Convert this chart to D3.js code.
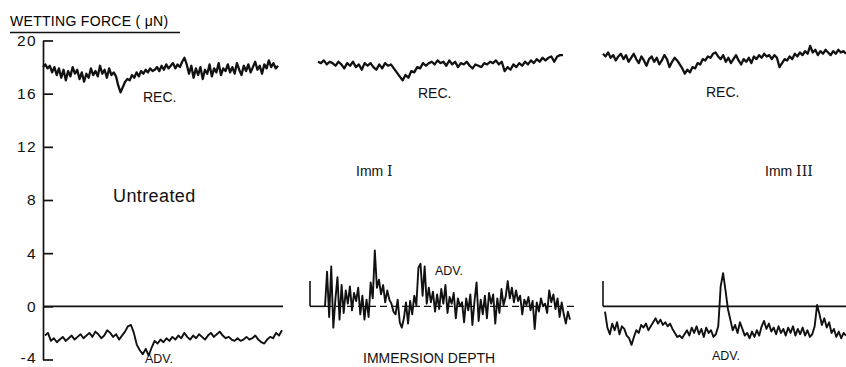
<!DOCTYPE html>
<html>
<head>
<meta charset="utf-8">
<script src="https://cdn.jsdelivr.net/npm/d3@7"></script>
<style>
  html, body { margin: 0; padding: 0; background: #fff; }
  svg { display: block; font-family: "Liberation Sans", Arial, sans-serif; }
</style>
</head>
<body>
<svg id="chart" width="846" height="367"></svg>
<script>
// Data (wetting force in µN, sampled along immersion depth)
const yTicks = [-4, 0, 4, 8, 12, 16, 20];
const axisTitle = "WETTING FORCE ( \u03bcN)";

const recUntreated = [
  18.0, 18.2, 17.9, 18.1, 17.6, 18.0, 17.4,
  17.9, 17.2, 17.8, 17.0, 17.7, 17.3, 18.0, 17.5, 17.8, 17.1, 17.6, 16.9, 17.5,
  17.2, 17.9, 17.4, 17.7, 17.3, 18.1, 17.5, 17.8, 17.2, 17.9, 17.4, 17.6, 17.3,
  16.6, 16.1, 16.5,
  16.9, 17.1, 17.0, 17.4, 17.2, 17.6, 17.3, 17.7, 17.5, 17.8, 17.6, 17.9, 17.7,
  17.8, 18.0, 17.7, 18.1, 17.8, 18.2, 17.9, 18.1, 18.3, 17.9, 18.2, 18.0, 18.4,
  18.7, 18.2,
  17.5, 18.1, 17.2, 17.9, 17.4, 18.0, 17.1, 17.8, 17.5, 18.2, 17.3, 17.9, 17.6,
  18.3, 17.4, 17.9, 17.7, 18.2,
  17.6, 18.0, 17.5, 18.3, 17.8, 17.4, 18.1, 17.7, 18.2, 17.6, 18.0, 18.4, 17.8,
  18.1, 17.5, 18.2, 17.9, 18.5, 18.0, 18.3, 17.9, 18.1
];
const advUntreated = [
  -2.2, -2.0, -2.6, -2.4, -2.7, -2.5, -2.3, -2.6, -2.4, -2.2, -2.5, -2.3, -2.1,
  -2.4, -2.2, -2.0, -2.3, -1.9, -2.1, -2.4, -2.2, -1.8, -2.0, -2.3, -2.1, -2.5,
  -2.2, -1.9, -1.5, -1.4, -2.0, -2.9, -3.3, -3.6, -3.2, -3.7, -3.1, -2.6, -2.8,
  -2.5, -2.7, -2.4, -2.6, -2.3, -2.5, -2.2, -2.4, -2.0, -2.3, -2.5, -2.2, -2.4,
  -2.1, -2.3, -2.5, -2.2, -2.0, -2.3, -2.1, -1.9, -2.2, -2.4, -2.3, -2.5, -2.6,
  -2.4, -2.6, -2.5, -2.3, -2.5, -2.4, -2.2, -2.5, -2.7, -2.8, -2.5, -2.3, -2.4,
  -2.0, -2.2, -1.8
];
const recImmI = [
  18.4, 18.3, 18.5, 18.2, 18.4, 18.3, 18.1, 18.4, 18.2, 17.9, 18.3, 18.1, 18.4,
  18.0, 18.2, 17.8, 18.3, 18.1, 18.3, 18.0, 17.8, 18.2, 17.9, 18.3, 18.1, 18.2,
  17.9, 17.6, 17.3, 17.0, 17.4, 17.2, 17.7, 17.6, 18.0, 17.9, 18.3, 18.1, 18.3,
  18.4, 18.2, 18.5, 18.3, 18.4, 18.1, 18.5, 18.2, 18.4, 18.0, 18.3, 18.2, 18.4,
  18.1, 17.9, 18.2, 18.1, 18.0, 18.3, 18.2, 18.4, 18.3, 18.5, 18.2, 18.4, 17.7,
  18.0, 17.8, 18.2, 18.0, 18.3, 18.1, 18.4, 18.2, 18.5, 18.3, 18.6, 18.4, 18.7,
  18.5, 18.7, 18.8, 18.4, 18.8, 18.9, 18.9
];
const advImmI = [
  0, 2.6, -0.8, 3.0, -1.6, 0.5, 2.2, -1.0, 1.6, -0.5, 1.2, 0.2, 1.5, -0.3, 1.0,
  0.4, 1.4, -0.6, 0.8, -1.0, 0.5, -0.8, 1.8, 0.6, 4.2, 1.4, 2.0, 0.9, 1.6, 0.3,
  1.2, 0.5, 0.2, -0.4, -0.6, 0.5, -1.2, -1.6, -0.9, 0.3, -1.3, 0.4, -0.6, 0.8,
  0.1, 2.9, 3.2, 0.8, 3.0, 0.2, 1.4, 0.3, 1.1, -0.4, 0.9, -0.2, 1.3, 0.2, 1.6,
  -0.5, 0.7, 0.2, 1.0, -0.9, 0.6, 0.0, 0.3, -1.2, 0.6, -0.3, 0.9, -1.4, 0.4, 1.8,
  -1.1, 0.5, -0.6, 0.8, -0.9, 1.0, 0.2, 0.9, -1.3, 0.6, -0.5, 1.3, 0.1, 0.7, 1.9,
  0.6, 1.4, 0.3, 1.2, 0.4, 0.8, -0.6, 0.5, 0.1, 0.7, -0.3, 0.4, -1.7, 0.3, -0.4,
  0.6, 0.0, 0.2, -0.5, 1.2, 0.3, 0.9, -0.2, 0.6, -0.8, 0.3, -0.6, -1.3, -0.4, -1.0
];
const recImmIII = [
  19.0, 18.8, 19.1, 18.7, 18.9, 18.5, 18.8, 19.0, 18.6, 18.9, 18.4, 18.7, 19.0,
  18.6, 18.3, 18.8, 18.5, 18.1, 18.6, 18.8, 18.4, 18.7, 18.2, 18.5, 18.9, 18.6,
  18.0, 18.4, 18.7, 18.5, 18.2, 17.9, 17.5, 17.8, 17.6, 18.0, 17.9, 18.3, 18.2,
  18.6, 18.5, 18.8, 18.7, 19.0, 19.1, 18.8, 18.6, 18.9, 18.4, 18.7, 18.3, 18.6,
  18.9, 18.5, 18.2, 18.6, 18.4, 18.7, 18.3, 18.8, 18.6, 18.9, 18.7, 19.0, 18.8,
  18.9, 18.6, 18.9, 18.7, 18.0, 18.3, 18.6, 18.5, 18.8, 18.6, 19.0, 18.8, 19.1,
  18.9, 19.2, 19.0, 19.6, 19.1, 19.3, 18.9, 19.2, 19.0, 19.3, 19.1, 18.9, 19.2,
  19.0, 19.3, 19.1, 19.2, 19.0
];
const advImmIII = [
  -0.4, -1.6, -2.1, -1.3, -1.8, -1.2, -2.1, -1.5, -1.7, -2.2, -2.4, -2.9, -2.3,
  -1.8, -2.0, -1.4, -1.6, -1.3, -1.8, -1.5, -1.2, -0.9, -1.3, -1.0, -1.4, -1.2,
  -1.5, -1.3, -1.7, -2.0, -2.3, -2.2, -2.4, -2.1, -1.8, -2.2, -1.6, -2.0, -1.5,
  -2.1, -1.7, -2.3, -1.6, -2.0, -1.8, -2.3, -2.1, -1.5, 1.5, 2.5, 1.2, -0.2,
  -1.0, -1.8, -1.4, -2.0, -1.2, -1.7, -2.2, -2.0, -2.4, -1.9, -2.3, -1.8, -2.2,
  -1.5, -1.1, -1.7, -1.3, -1.9, -1.6, -2.1, -1.5, -2.0, -1.7, -2.2, -1.6, -2.0,
  -1.5, -2.2, -1.7, -2.1, -1.6, -2.2, -1.8, -2.3, -2.1, -1.5, 0.1, -0.6, -1.4,
  -0.9, -1.6, -1.2, -2.0, -1.7, -2.3, -1.9, -2.4, -2.0, -2.2
];
const panelNames = ["Untreated", "Imm", "Imm"];
const panelNumerals = ["", "I", "III"];
const traceLabels = ["REC.", "ADV."];
const xAxisTitle = "IMMERSION DEPTH";
const advMarker = 1.9; // height of the small start marker on the ADV. baselines

// Layout
const svg = d3.select("#chart");
const y = d3.scaleLinear().domain([-4, 20]).range([359.5, 40.5]);
const axisX = 43;

const panels = [
  { rec: recUntreated, adv: advUntreated, recRange: [43, 278], advRange: [45, 282],
    zero: [43, 283], marker: null, dashed: false,
    recLabel: [143, 101.5], advLabel: [145, 363], name: [113, 202] },
  { rec: recImmI, adv: advImmI, recRange: [318, 563], advRange: [325, 570],
    zero: [310, 574], marker: 310, dashed: true,
    recLabel: [418, 98], advLabel: [435, 275], name: [356, 176] },
  { rec: recImmIII, adv: advImmIII, recRange: [603, 846], advRange: [605, 846],
    zero: [603, 846], marker: 603, dashed: false,
    recLabel: [706, 97], advLabel: [712, 360], name: [765, 176] }
];

// Axis title + underline
svg.append("text")
  .attr("x", 10).attr("y", 26)
  .attr("font-size", 14).attr("letter-spacing", 0.3)
  .text(axisTitle);
svg.append("line")
  .attr("x1", 10).attr("x2", 180).attr("y1", 32.5).attr("y2", 32.5)
  .attr("stroke", "#111").attr("stroke-width", 1.3);

// Y axis, ticks pointing inward
const yAxis = d3.axisLeft(y).tickValues(yTicks).tickSizeInner(-10).tickSizeOuter(0).tickPadding(6);
const yAxisG = svg.append("g")
  .attr("transform", `translate(${axisX},0)`)
  .call(yAxis);
yAxisG.select(".domain").attr("stroke", "#111").attr("stroke-width", 1.7);
yAxisG.selectAll(".tick line").attr("stroke", "#111").attr("stroke-width", 1.7);
yAxisG.selectAll(".tick text")
  .attr("font-family", "\"Liberation Sans\", Arial, sans-serif")
  .attr("font-size", 15.5).attr("letter-spacing", 1.4).attr("fill", "#111")
  .attr("dy", d => d === -4 ? "0.2em" : "0.32em")
  .text(d => d < 0 ? "-" + Math.abs(d) : d);

const line = (xs) => d3.line().x((d, i) => xs(i)).y(d => y(d)).curve(d3.curveLinear);

panels.forEach((p, k) => {
  const g = svg.append("g");
  const y0 = y(0);

  // zero line
  if (p.dashed) {
    g.append("line").attr("x1", p.zero[0]).attr("x2", p.advRange[0])
      .attr("y1", y0).attr("y2", y0).attr("stroke", "#111").attr("stroke-width", 1.6);
    g.append("line").attr("x1", p.advRange[0]).attr("x2", p.zero[1])
      .attr("y1", y0).attr("y2", y0).attr("stroke", "#111").attr("stroke-width", 1.4)
      .attr("stroke-dasharray", "7 4");
  } else {
    g.append("line").attr("x1", p.zero[0]).attr("x2", p.zero[1])
      .attr("y1", y0).attr("y2", y0).attr("stroke", "#111").attr("stroke-width", 1.6);
  }
  if (p.marker !== null) {
    g.append("line").attr("x1", p.marker).attr("x2", p.marker)
      .attr("y1", y0).attr("y2", y(advMarker)).attr("stroke", "#111").attr("stroke-width", 1.6);
  }

  // traces
  const xRec = d3.scaleLinear().domain([0, p.rec.length - 1]).range(p.recRange);
  const xAdv = d3.scaleLinear().domain([0, p.adv.length - 1]).range(p.advRange);
  g.append("path").datum(p.rec).attr("d", line(xRec))
    .attr("fill", "none").attr("stroke", "#111").attr("stroke-width", 2.3)
    .attr("stroke-linejoin", "round");
  g.append("path").datum(p.adv).attr("d", line(xAdv))
    .attr("fill", "none").attr("stroke", "#111").attr("stroke-width", 1.9)
    .attr("stroke-linejoin", "round");

  // labels
  g.append("text").attr("x", p.recLabel[0]).attr("y", p.recLabel[1])
    .attr("font-size", 14).attr("fill", "#111").text(traceLabels[0]);
  g.append("text").attr("x", p.advLabel[0]).attr("y", p.advLabel[1])
    .attr("font-size", 12.5).attr("fill", "#111").text(traceLabels[1]);

  const name = g.append("text").attr("x", p.name[0]).attr("y", p.name[1]).attr("fill", "#111");
  if (k === 0) {
    name.attr("font-size", 18).attr("letter-spacing", 0.4).text(panelNames[k]);
  } else {
    name.attr("font-size", 14).text(panelNames[k] + "  ");
    name.append("tspan").attr("font-family", "\"DejaVu Serif\", serif")
      .attr("font-size", 14).text(panelNumerals[k]);
  }
});

// x-axis title
svg.append("text").attr("x", 363).attr("y", 363)
  .attr("font-size", 14).attr("fill", "#111").text(xAxisTitle);
</script>
</body>
</html>
